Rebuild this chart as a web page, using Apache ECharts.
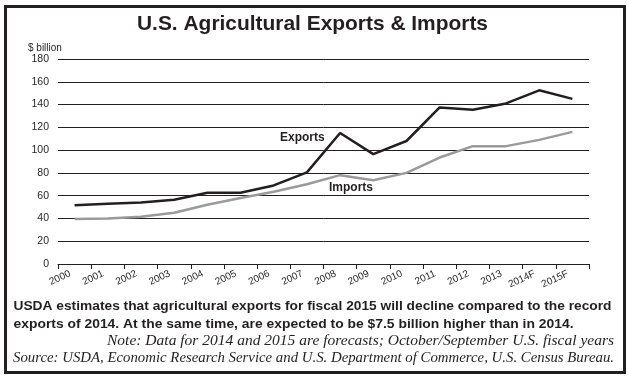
<!DOCTYPE html>
<html>
<head>
<meta charset="utf-8">
<script src="https://cdn.jsdelivr.net/npm/echarts@6/dist/echarts.min.js"></script>
<style>
html,body{margin:0;padding:0;background:#fff;}
#c{width:629px;height:377px;}
</style>
</head>
<body>
<div id="c"></div>
<script>
var years = ['2000','2001','2002','2003','2004','2005','2006','2007','2008','2009','2010','2011','2012','2013','2014F','2015F'];
var exportsData = [51.5, 53, 54, 56.5, 62.5, 62.5, 69, 80.5, 115, 96.5, 108, 137.5, 135.5, 141, 152.5, 145];
var importsData = [39.5, 40, 41.5, 45, 52, 58, 63.5, 70, 78, 73.5, 80, 93.5, 103.5, 103.5, 109, 116];
var yTicks = [0, 20, 40, 60, 80, 100, 120, 140, 160, 180];

var titleText = 'U.S. Agricultural Exports & Imports';
var unitText = '$ billion';
var noteLines = [
  'USDA estimates that agricultural exports for fiscal 2015 will decline compared to the record',
  'exports of 2014. At the same time, are expected to be $7.5 billion higher than in 2014.'
];
var noteText = 'Note: Data for 2014 and 2015 are forecasts; October/September U.S. fiscal years';
var sourceText = 'Source: USDA, Economic Research Service and U.S. Department of Commerce, U.S. Census Bureau.';

var SANS = "'Liberation Sans', Arial, sans-serif";
var SERIF = "'Liberation Serif', 'Times New Roman', serif";
var INK = '#231f20';

var mctx = document.createElement('canvas').getContext('2d');
function fitScale(text, font, target) {
  mctx.font = font;
  return target / mctx.measureText(text).width;
}

function fittedText(text, font, x, y, target, align) {
  var s = fitScale(text, font, target);
  return {
    type: 'text', x: x, y: y, scaleX: s, originX: 0, originY: 0,
    style: {text: text, font: font, fill: INK, textAlign: align || 'left', textVerticalAlign: 'middle'}
  };
}

var boldFont = 'bold 13.5px ' + SANS;
var italFont = 'italic 14px ' + SERIF;

var chart = echarts.init(document.getElementById('c'), null, {renderer: 'canvas'});
chart.setOption({
  animation: false,
  backgroundColor: '#fff',
  grid: {left: 58, right: 40, top: 59, bottom: 113, containLabel: false},
  xAxis: {
    type: 'category',
    data: years,
    boundaryGap: true,
    axisLine: {lineStyle: {color: INK, width: 1}},
    axisTick: {show: true, length: 5, lineStyle: {color: INK, width: 1}},
    axisLabel: {rotate: 25, fontSize: 10, color: INK, fontFamily: SANS, margin: 7, interval: 0, padding: [0, 5, 0, 0]}
  },
  yAxis: {
    type: 'value',
    min: yTicks[0], max: yTicks[yTicks.length - 1], interval: 20,
    axisLine: {show: false},
    axisTick: {show: false},
    axisLabel: {fontSize: 10.5, color: INK, fontFamily: SANS, margin: 9},
    splitLine: {lineStyle: {color: INK, width: 1}}
  },
  series: [
    {name: 'Imports', type: 'line', data: importsData, symbol: 'none',
     lineStyle: {color: '#9a9a9a', width: 2.5}},
    {name: 'Exports', type: 'line', data: exportsData, symbol: 'none',
     lineStyle: {color: INK, width: 2.5}}
  ],
  graphic: [
    {type: 'rect', left: 3, top: 4, shape: {width: 619, height: 366},
     style: {fill: 'none', stroke: INK, lineWidth: 3}},
    fittedText(titleText, 'bold 21px ' + SANS, 137, 24, 351, 'left'),
    {type: 'text', x: 28, y: 48, style: {text: unitText, font: '10px ' + SANS, fill: INK, textAlign: 'left', textVerticalAlign: 'middle'}},
    {type: 'text', x: 280, y: 138, style: {text: 'Exports', font: 'bold 12px ' + SANS, fill: INK, textAlign: 'left', textVerticalAlign: 'middle'}},
    {type: 'text', x: 329, y: 188, style: {text: 'Imports', font: 'bold 12px ' + SANS, fill: INK, textAlign: 'left', textVerticalAlign: 'middle'}},
    fittedText(noteLines[0], boldFont, 13.5, 306, 598, 'left'),
    fittedText(noteLines[1], boldFont, 13.5, 324, 560, 'left'),
    fittedText(noteText, italFont, 107, 341, 507, 'left'),
    fittedText(sourceText, italFont, 13, 358, 601, 'left')
  ]
});
</script>
</body>
</html>
